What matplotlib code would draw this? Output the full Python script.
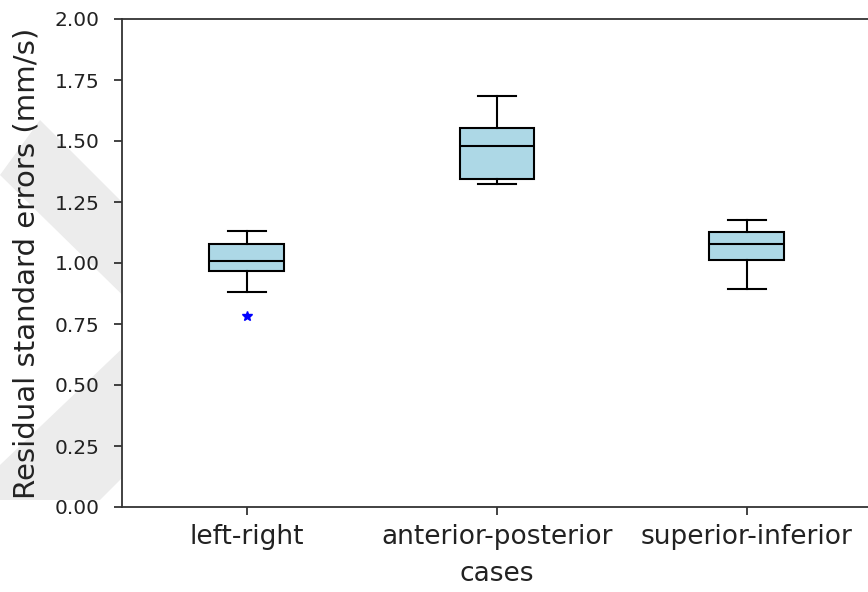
import matplotlib
matplotlib.use("Agg")
import matplotlib.pyplot as plt
from matplotlib.patches import Polygon

# ------------------------------
# data
# ------------------------------
cases = ["left-right", "anterior-posterior", "superior-inferior"]
whisker_low = [0.882, 1.325, 0.892]
q1 = [0.967, 1.344, 1.011]
median = [1.009, 1.481, 1.077]
q3 = [1.077, 1.552, 1.128]
whisker_high = [1.131, 1.684, 1.176]
outliers = [[0.783], [], []]

y_ticks = [0.0, 0.25, 0.5, 0.75, 1.0, 1.25, 1.5, 1.75, 2.0]

# stats dicts for bxp
stats = []
for i, name in enumerate(cases):
    stats.append(dict(label=name, whislo=whisker_low[i], q1=q1[i], med=median[i],
                      q3=q3[i], whishi=whisker_high[i], fliers=outliers[i]))

fig = plt.figure(figsize=(8.68, 5.92), dpi=100)

# faint watermark chevron behind the axes (pixel coords, y from top)
W, H = 868, 592
chev = [(40, 120), (260, 340), (100, 500), (0, 500), (0, 465),
        (150, 322), (0, 175)]
fig.patches.append(Polygon([(x / W, 1 - y / H) for x, y in chev], closed=True,
                           transform=fig.transFigure, facecolor="#ececec",
                           edgecolor="none", zorder=-1))

# right spine falls just outside the picture, as in the reference
ax = fig.add_axes([122 / W, 85 / H, 750 / W, 488 / H])

ax.bxp(stats, widths=0.3, patch_artist=True,
       boxprops=dict(facecolor="lightblue", edgecolor="black", linewidth=1.5),
       medianprops=dict(color="black", linewidth=1.5),
       whiskerprops=dict(color="black", linewidth=1.5),
       capprops=dict(color="black", linewidth=1.5),
       flierprops=dict(marker="*", markerfacecolor="blue", markeredgecolor="blue",
                       markersize=7))

ax.set_xlim(0.5, 3.5)
ax.set_ylim(0, 2)
ax.set_yticks(y_ticks)
ax.set_yticklabels([f"{v:.2f}" for v in y_ticks])

for s in ax.spines.values():
    s.set_linewidth(1.3)
    s.set_color("#333333")

ax.tick_params(axis="y", labelsize=14.5, length=6, width=1.2, pad=10, colors="#222222")
ax.tick_params(axis="x", labelsize=19, length=6, width=1.2, pad=6, colors="#222222")

ax.set_xlabel("cases", fontsize=19, color="#222222")
ax.set_ylabel("Residual standard errors (mm/s)", fontsize=21, color="#222222")
ax.xaxis.set_label_coords(0.5, -0.11)
ax.yaxis.set_label_coords(-0.108, 0.5)

fig.savefig("out.png", dpi=100)
